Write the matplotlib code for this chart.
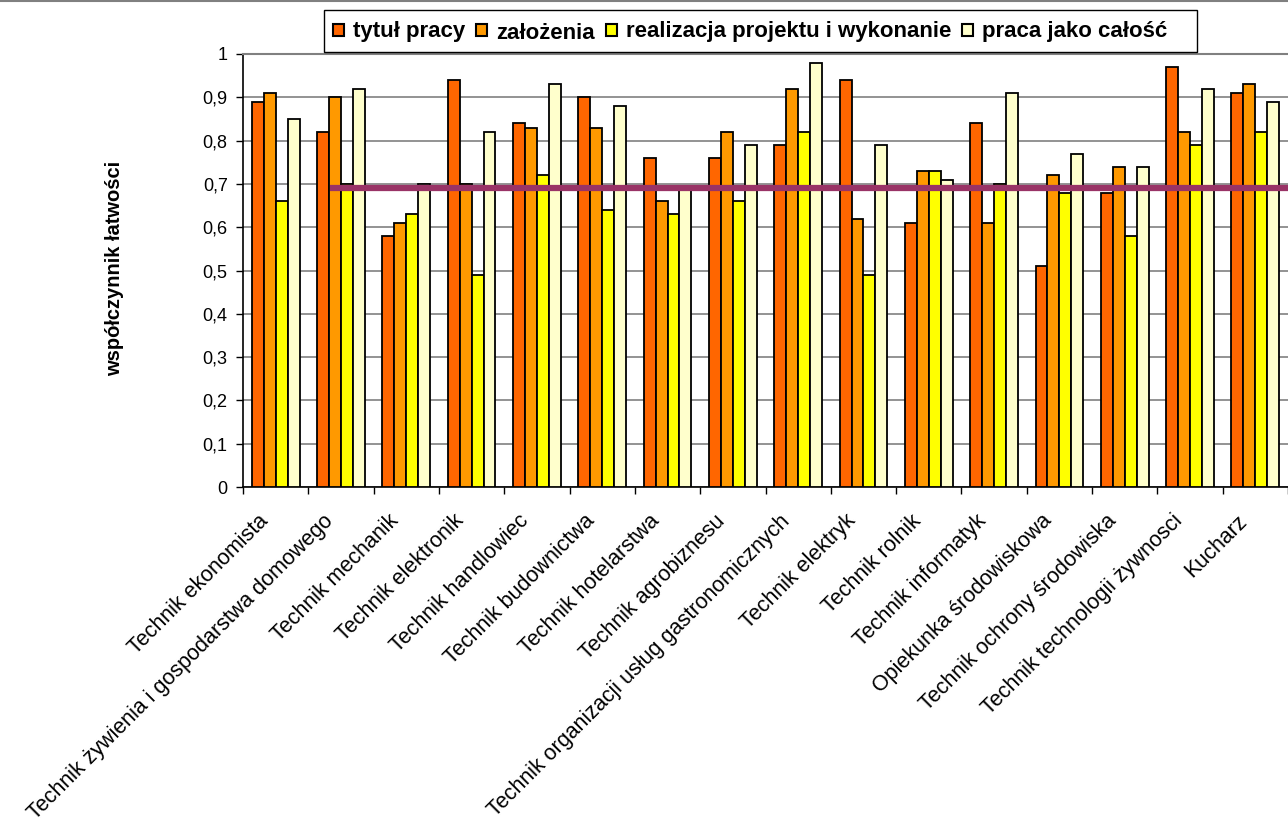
import numpy as np
import matplotlib
matplotlib.use('Agg')
from matplotlib import pyplot as plt
from matplotlib.transforms import ScaledTranslation
from matplotlib.patches import Rectangle
from matplotlib.lines import Line2D
from matplotlib.font_manager import FontProperties

plt.rcParams['font.family'] = ['Liberation Sans', 'DejaVu Sans']

categories = [
    'Technik ekonomista',
    'Technik żywienia i gospodarstwa domowego',
    'Technik mechanik',
    'Technik elektronik',
    'Technik handlowiec',
    'Technik budownictwa',
    'Technik hotelarstwa',
    'Technik agrobiznesu',
    'Technik organizacji usług gastronomicznych',
    'Technik elektryk',
    'Technik rolnik',
    'Technik informatyk',
    'Opiekunka środowiskowa',
    'Technik ochrony środowiska',
    'Technik technologii żywnosci',
    'Kucharz',
]

tytul = [0.89, 0.82, 0.58, 0.94, 0.84, 0.90, 0.76, 0.76, 0.79, 0.94, 0.61, 0.84, 0.51, 0.68, 0.97, 0.91]
zalozenia = [0.91, 0.90, 0.61, 0.70, 0.83, 0.83, 0.66, 0.82, 0.92, 0.62, 0.73, 0.61, 0.72, 0.74, 0.82, 0.93]
realizacja = [0.66, 0.70, 0.63, 0.49, 0.72, 0.64, 0.63, 0.66, 0.82, 0.49, 0.73, 0.70, 0.68, 0.58, 0.79, 0.82]
calosc = [0.85, 0.92, 0.70, 0.82, 0.93, 0.88, 0.69, 0.79, 0.98, 0.79, 0.71, 0.91, 0.77, 0.74, 0.92, 0.89]

series_names = ['tytuł pracy', 'założenia', 'realizacja projektu i wykonanie', 'praca jako całość']
series_colors = ['#FF6600', '#FF9900', '#FFFF00', '#FFFFCC']

# average line
line_value = 0.69
line_start = 0.83

W, H = 1288, 827
fig = plt.figure(figsize=(W / 100, H / 100), dpi=100)
ax = fig.add_axes([243/W, 1 - 487/H, 1045/W, 433/H])

def px(xp, yp):
    # pixel position (from top-left) -> figure fraction
    return xp / W, 1 - yp / H

x = np.arange(len(categories))
w = 0.183
for j, (vals, name, col) in enumerate(zip([tytul, zalozenia, realizacja, calosc], series_names, series_colors)):
    ax.bar(x + (j - 1.5) * w, vals, width=w, color=col, edgecolor='black',
           linewidth=1.3, label=name, zorder=3)

ax.hlines(line_value, line_start, len(categories) - 0.5, color='#993366', linewidth=4.5, zorder=4)

ax.set_xlim(-0.5, len(categories) - 0.5)
ax.set_ylim(0, 1)
ax.set_yticks(np.arange(0, 1.01, 0.1))
ax.set_yticklabels(['0'] + [f'0,{i}' for i in range(1, 10)] + ['1'], fontsize=13)
ax.yaxis.grid(True, color='#808080', linewidth=1.2, zorder=0)

ax.set_xticks(np.arange(-0.5, len(categories), 1.0))
ax.set_xticklabels([])
ax.tick_params(axis='x', which='major', length=5, width=1, direction='out')
ax.tick_params(axis='y', length=5, width=1, direction='out', pad=6)

# rotated category labels, end of text just left of / below the category centre
lbl_shift = ax.get_xaxis_transform() + ScaledTranslation(-11/100, -31/100, fig.dpi_scale_trans)
for i, cat in enumerate(categories):
    ax.text(x[i], 0, cat, transform=lbl_shift, rotation=45, ha='right', va='center',
            rotation_mode='anchor', fontsize=15.5, clip_on=False)

for side in ['left', 'bottom']:
    ax.spines[side].set_color('black')
    ax.spines[side].set_linewidth(1.2)
ax.spines['top'].set_color('#808080')
ax.spines['top'].set_linewidth(1.5)
ax.spines['right'].set_visible(False)

fig.text(115/W, 1 - 268/H, 'współczynnik łatwości', rotation=90, ha='center', va='center',
         fontsize=14.5, fontweight='bold')

# chart border line at the very top
fig.add_artist(Line2D([0, 1], [1 - 1/H, 1 - 1/H], color='#808080', linewidth=1.5))

# legend drawn by hand so that all labels share one baseline
fig.add_artist(Rectangle(px(324, 52), 873/W, 42/H, transform=fig.transFigure,
                         facecolor='white', edgecolor='black', linewidth=1.0, zorder=5))
renderer = fig.canvas.get_renderer()
leg_font = FontProperties(family='Liberation Sans', weight='bold', size=16)
_, _, lp_d = renderer.get_text_width_height_descent('lp', leg_font, ismath=False)
xp = 333
for name, col in zip(series_names, series_colors):
    fig.add_artist(Rectangle(px(xp, 36), 11/W, 12/H, transform=fig.transFigure,
                             facecolor=col, edgecolor='black', linewidth=1.5, zorder=6))
    _, _, d = renderer.get_text_width_height_descent(name, leg_font, ismath=False)
    # labels without descenders get drawn a little high, nudge them back down
    t = fig.text(*px(xp + 20, 36.5 + 0.5 * max(lp_d - d, 0)), name, ha='left', va='baseline',
                 fontproperties=leg_font, zorder=6)
    xp = xp + 20 + t.get_window_extent(renderer).width + 11

fig.savefig('out.png', dpi=100)
